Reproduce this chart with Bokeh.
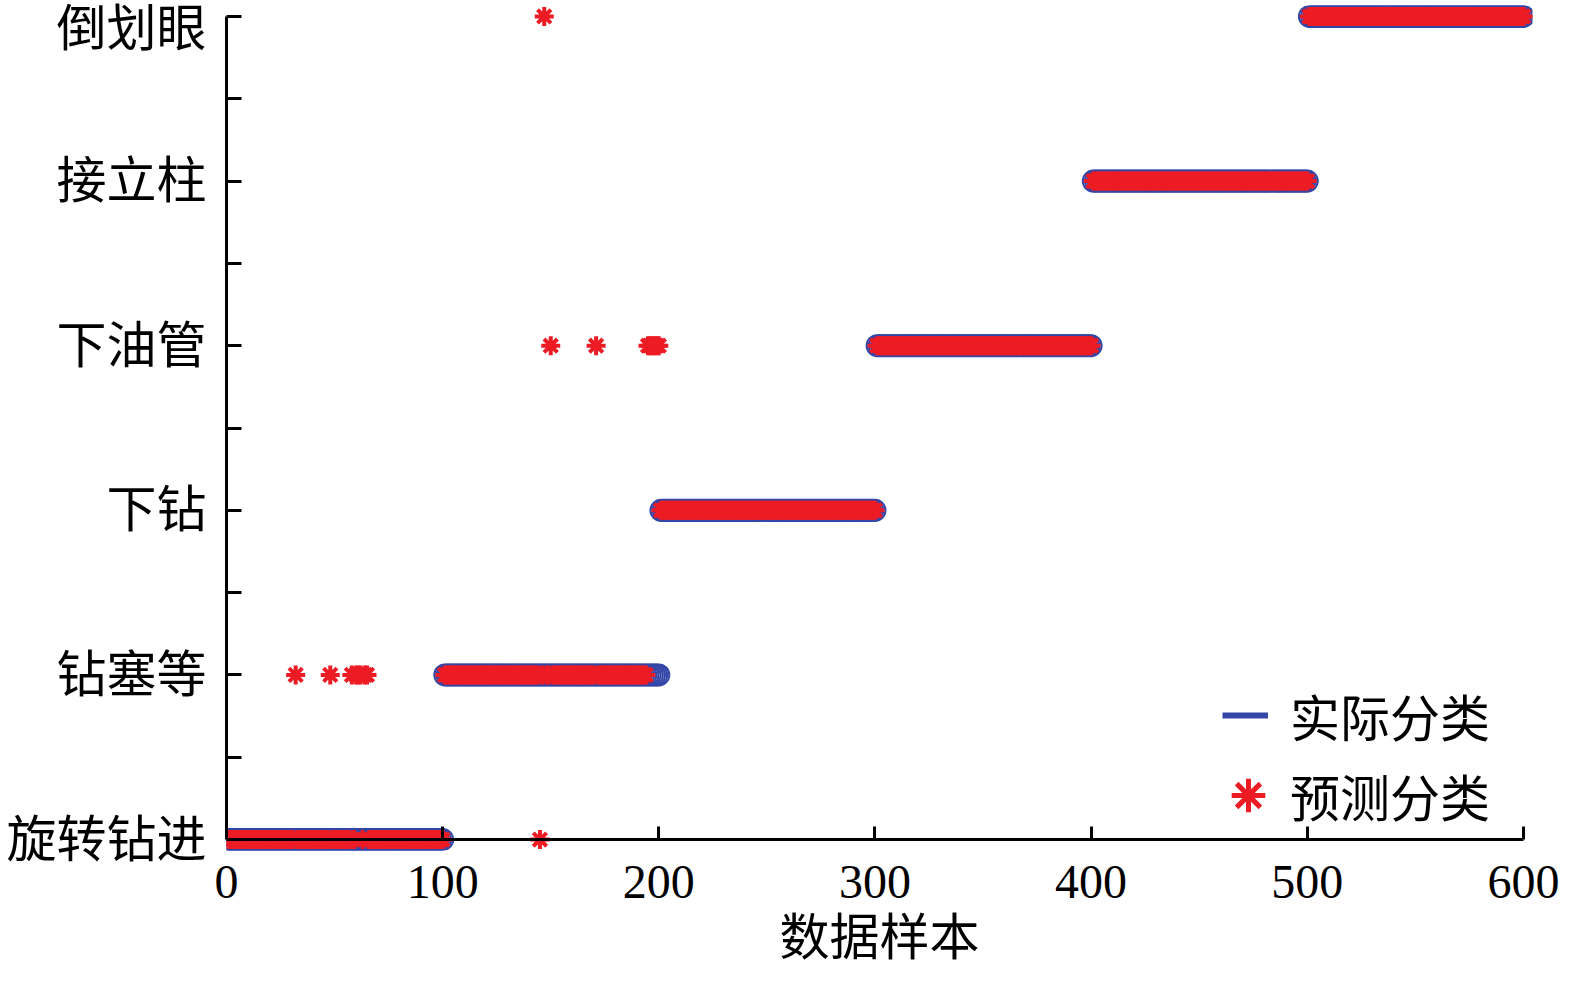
import numpy as np
from bokeh.plotting import figure
from bokeh.models import (Range1d, FixedTicker, LinearAxis, Legend, LegendItem,
                          ColumnDataSource)
from bokeh.embed import file_html
from bokeh.resources import INLINE

# ---------------- data ----------------
class_codes = [1, 2, 3, 4, 5, 6]
class_names = ["旋转钻进", "钻塞等", "下钻", "下油管", "接立柱", "倒划眼"]
# actual sequence: consecutive blocks of samples, one block per class
block_first = [1, 101, 201, 301, 401, 501]
block_last = [100, 200, 300, 400, 500, 600]
# misclassified samples (sample number -> predicted class code)
mis_samples = [32, 48, 58, 60, 61, 62, 64, 65, 145, 147, 150, 171,
               195, 196, 197, 198, 199, 200]
mis_pred = [2, 2, 2, 2, 2, 2, 2, 2, 1, 6, 4, 4,
            4, 4, 4, 4, 4, 4]
x_ticks = [0, 100, 200, 300, 400, 500, 600]
x_title = "数据样本"

samples = []
actual = []
for code, a, b in zip(class_codes, block_first, block_last):
    for s in range(a, b + 1):
        samples.append(s)
        actual.append(code)
samples = np.array(samples)
actual = np.array(actual)
predicted = actual.copy()
for s, c in zip(mis_samples, mis_pred):
    predicted[s - 1] = c

# ---------------- style ----------------
FONT = "Liberation Serif, Noto Sans CJK SC"
BLUE = "#3346a8"
RED = "#ed1c24"

p = figure(width=1559, height=968, output_backend="svg", toolbar_location=None,
           x_range=Range1d(0, 604.2), y_range=Range1d(0.9333, 6.0667),
           x_axis_location=None, y_axis_location=None,
           min_border_left=226, min_border_right=27, min_border_top=5,
           min_border_bottom=118)
p.outline_line_color = None
p.background_fill_color = "white"
p.xgrid.visible = False
p.ygrid.visible = False

yaxis = LinearAxis(
    ticker=FixedTicker(ticks=class_codes,
                       minor_ticks=[c + 0.5 for c in class_codes[:-1]]),
    major_label_overrides={c: n for c, n in zip(class_codes, class_names)},
    bounds=(class_codes[0], class_codes[-1]),
    axis_line_width=3, axis_line_color="black",
    major_tick_in=15, major_tick_out=0, major_tick_line_width=3,
    minor_tick_in=15, minor_tick_out=0, minor_tick_line_width=3,
    major_label_text_font_size="50px", major_label_text_font=FONT,
    major_label_text_color="black", major_label_standoff=20)
p.add_layout(yaxis, "left")

# tick labels and title of the x axis (at the frame bottom)
xaxis = LinearAxis(
    ticker=FixedTicker(ticks=x_ticks),
    axis_line_color=None, major_tick_line_color=None,
    minor_tick_line_color=None, major_tick_in=0, major_tick_out=0,
    major_label_text_font_size="48px", major_label_text_font=FONT,
    major_label_text_color="black", major_label_standoff=15,
    axis_label=x_title,
    axis_label_text_font_size="50px", axis_label_text_font=FONT,
    axis_label_text_font_style="normal", axis_label_text_color="black",
    axis_label_standoff=9)
p.add_layout(xaxis, "below")

# x axis line and ticks, drawn through the lowest class level
xline = LinearAxis(
    ticker=FixedTicker(ticks=x_ticks), fixed_location=class_codes[0],
    bounds=(x_ticks[0], x_ticks[-1]),
    axis_line_width=3, axis_line_color="black",
    major_tick_in=13, major_tick_out=0, major_tick_line_width=3,
    minor_tick_line_color=None, major_label_text_font_size="0px",
    major_label_text_alpha=0, major_label_standoff=0)
p.add_layout(xline, "below")

src = ColumnDataSource(dict(sample=samples, actual=actual, predicted=predicted))
p.scatter("sample", "actual", source=src, marker="circle", size=21,
          fill_color=None, line_color=BLUE, line_width=2)
p.scatter("sample", "predicted", source=src, marker="asterisk", size=19,
          line_color=RED, line_width=4)

# legend-only renderers (hidden; their glyph styles are shown in the legend)
r_line = p.line("sample", "actual", source=src, line_color=BLUE,
                line_width=6, visible=False)
r_star = p.scatter("sample", "predicted", source=src, marker="asterisk",
                   line_color=RED, line_width=5, visible=False)

common = dict(padding=0, margin=0, border_line_color=None,
              background_fill_alpha=0, label_text_font_size="50px",
              label_text_font=FONT, label_text_color="black",
              inactive_fill_alpha=0, click_policy="none")
leg1 = Legend(items=[LegendItem(label="实际分类", renderers=[r_line])],
              location=(996, 99), glyph_width=46, glyph_height=60,
              label_standoff=22, **common)
leg2 = Legend(items=[LegendItem(label="预测分类", renderers=[r_star])],
              location=(980, 13), glyph_width=84, glyph_height=84,
              label_standoff=0, **common)
p.add_layout(leg1)
p.add_layout(leg2)

open("out.html", "w").write(file_html(p, INLINE))
